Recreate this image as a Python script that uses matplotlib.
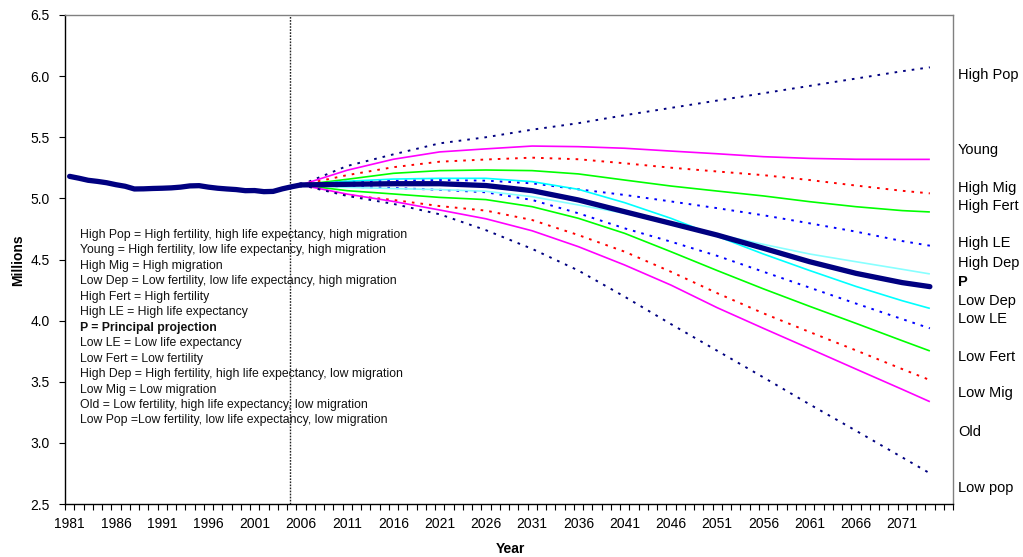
import matplotlib
matplotlib.use("Agg")
import matplotlib.pyplot as plt
from matplotlib.ticker import FixedLocator, FormatStrFormatter

plt.rcParams['font.family'] = ['Liberation Sans', 'DejaVu Sans']

# Estimated population, 1981-2006 (millions)
hist_years = list(range(1981, 2007))
hist_pop = [5.180, 5.165, 5.148, 5.139, 5.128, 5.112, 5.099, 5.077, 5.078, 5.081,
            5.083, 5.086, 5.092, 5.102, 5.104, 5.092, 5.083, 5.077, 5.072, 5.063,
            5.064, 5.055, 5.057, 5.078, 5.095, 5.110]

# Projection variants (millions)
proj_years = [2006, 2011, 2016, 2021, 2026, 2031, 2036, 2041, 2046, 2051, 2056, 2061, 2066, 2071, 2074]
high_pop  = [5.11, 5.265, 5.36, 5.45, 5.50, 5.562, 5.615, 5.68, 5.74, 5.80, 5.86, 5.92, 5.98, 6.04, 6.072]
young     = [5.11, 5.23, 5.32, 5.38, 5.405, 5.428, 5.423, 5.41, 5.387, 5.365, 5.341, 5.327, 5.32, 5.319, 5.319]
high_mig  = [5.11, 5.19, 5.255, 5.30, 5.318, 5.333, 5.32, 5.287, 5.251, 5.22, 5.19, 5.15, 5.105, 5.062, 5.041]
high_fert = [5.11, 5.156, 5.205, 5.227, 5.232, 5.227, 5.20, 5.15, 5.101, 5.06, 5.02, 4.973, 4.932, 4.90, 4.889]
high_le   = [5.11, 5.137, 5.145, 5.15, 5.145, 5.123, 5.074, 5.028, 4.975, 4.92, 4.862, 4.796, 4.728, 4.651, 4.613]
high_dep  = [5.11, 5.09, 5.08, 5.072, 5.058, 5.014, 4.946, 4.878, 4.796, 4.705, 4.624, 4.545, 4.482, 4.42, 4.382]
principal = [5.11, 5.115, 5.12, 5.12, 5.105, 5.063, 4.987, 4.891, 4.796, 4.70, 4.592, 4.482, 4.387, 4.311, 4.278]
low_dep   = [5.11, 5.14, 5.158, 5.164, 5.164, 5.137, 5.074, 4.965, 4.837, 4.69, 4.545, 4.41, 4.28, 4.163, 4.10]
low_le    = [5.11, 5.095, 5.085, 5.07, 5.05, 4.987, 4.878, 4.755, 4.646, 4.53, 4.40, 4.27, 4.14, 4.013, 3.937]
low_fert  = [5.11, 5.063, 5.036, 5.008, 4.99, 4.932, 4.837, 4.714, 4.564, 4.41, 4.26, 4.117, 3.978, 3.836, 3.752]
low_mig   = [5.11, 5.027, 4.987, 4.937, 4.90, 4.823, 4.70, 4.564, 4.40, 4.225, 4.06, 3.907, 3.757, 3.604, 3.514]
old       = [5.11, 5.035, 4.975, 4.905, 4.833, 4.735, 4.605, 4.455, 4.291, 4.106, 3.937, 3.771, 3.604, 3.438, 3.337]
low_pop   = [5.11, 5.02, 4.955, 4.87, 4.74, 4.587, 4.41, 4.196, 3.972, 3.754, 3.536, 3.315, 3.10, 2.882, 2.751]

base_year_line = 2004.8

tick_years = list(range(1981, 2072, 5))
y_ticks = [2.5, 3.0, 3.5, 4.0, 4.5, 5.0, 5.5, 6.0, 6.5]

end_labels = ["High Pop", "Young", "High Mig", "High Fert", "High LE", "High Dep", "P",
              "Low Dep", "Low LE", "Low Fert", "Low Mig", "Old", "Low pop"]
end_label_y = [6.009, 5.396, 5.085, 4.938, 4.635, 4.471, 4.316, 4.161, 4.013, 3.702, 3.408, 3.089, 2.631]

key_lines = [
    "High Pop = High fertility, high life expectancy, high migration",
    "Young = High fertility, low life expectancy, high migration",
    "High Mig = High migration",
    "Low Dep = Low fertility, low life expectancy, high migration",
    "High Fert = High fertility",
    "High LE = High life expectancy",
    "P = Principal projection",
    "Low LE = Low life expectancy",
    "Low Fert = Low fertility",
    "High Dep = High fertility, high life expectancy, low migration",
    "Low Mig = Low migration",
    "Old = Low fertility, high life expectancy, low migration",
    "Low Pop =Low fertility, low life expectancy, low migration",
]

NAVY = "#000080"
DOT = (0, (1.35, 3.1))

W, H = 1023, 557
fig = plt.figure(figsize=(W / 100, H / 100), dpi=100)
ax = fig.add_axes([65 / W, 53 / H, 888 / W, 489 / H])

series = [
    (high_pop, NAVY, DOT),
    (young, "#FF00FF", "-"),
    (high_mig, "#FF0000", DOT),
    (high_fert, "#00FF00", "-"),
    (high_le, "#0000FF", DOT),
    (low_le, "#0000FF", DOT),
    (low_fert, "#00FF00", "-"),
    (low_mig, "#FF0000", DOT),
    (old, "#FF00FF", "-"),
    (low_pop, NAVY, DOT),
    (low_dep, "#00FFFF", "-"),
    (high_dep, "#88FFFF", "-"),
]
for vals, col, ls in series:
    is_dot = ls != "-"
    ax.plot(proj_years, vals, color=col, lw=1.4 if is_dot else 1.2, linestyle=ls,
            dash_capstyle="butt", solid_capstyle="butt", zorder=3)

ax.plot(hist_years, hist_pop, color=NAVY, lw=3.8, solid_capstyle="round", zorder=4)
ax.plot(proj_years, principal, color=NAVY, lw=3.8, solid_capstyle="round", zorder=4)

ax.axvline(base_year_line, color="#222222", lw=1.0, linestyle=(0, (1.2, 1.0)), zorder=2)

ax.set_xlim(1980.5, 2076.5)
ax.set_ylim(2.5, 6.5)

ax.xaxis.set_major_locator(FixedLocator(tick_years))
ax.xaxis.set_minor_locator(FixedLocator([y + 0.5 for y in range(1980, 2077)]))
ax.tick_params(axis="x", which="major", length=0, pad=9, labelsize=10)
ax.tick_params(axis="x", which="minor", length=4, width=0.8, direction="out")
ax.set_yticks(y_ticks)
ax.yaxis.set_major_formatter(FormatStrFormatter("%.1f"))
ax.tick_params(axis="y", which="major", length=4, width=0.8, direction="out", pad=7, labelsize=10)

for side in ("left", "bottom"):
    ax.spines[side].set_color("black")
    ax.spines[side].set_linewidth(1.0)
for side in ("top", "right"):
    ax.spines[side].set_color("#808080")
    ax.spines[side].set_linewidth(1.0)

fig.text(18 / W, 1 - 260 / H, "Millions", rotation=90, ha="center", va="center",
         fontsize=10, fontweight="bold")
fig.text(510 / W, 1 - 549 / H, "Year", ha="center", va="center",
         fontsize=10, fontweight="bold")

ytrans = ax.get_yaxis_transform()
for lab, yv in zip(end_labels, end_label_y):
    ax.text((958 - 65) / 888, yv, lab, transform=ytrans, ha="left", va="center",
            fontsize=10.5, fontweight="bold" if lab == "P" else "normal", clip_on=False)

for i, line in enumerate(key_lines):
    fig.text(80 / W, 1 - (235 + i * 15.45) / H, line, ha="left", va="center",
             fontsize=8.8, fontweight="bold" if line.startswith("P =") else "normal",
             color="#111111")

fig.savefig("out.png", dpi=100)
